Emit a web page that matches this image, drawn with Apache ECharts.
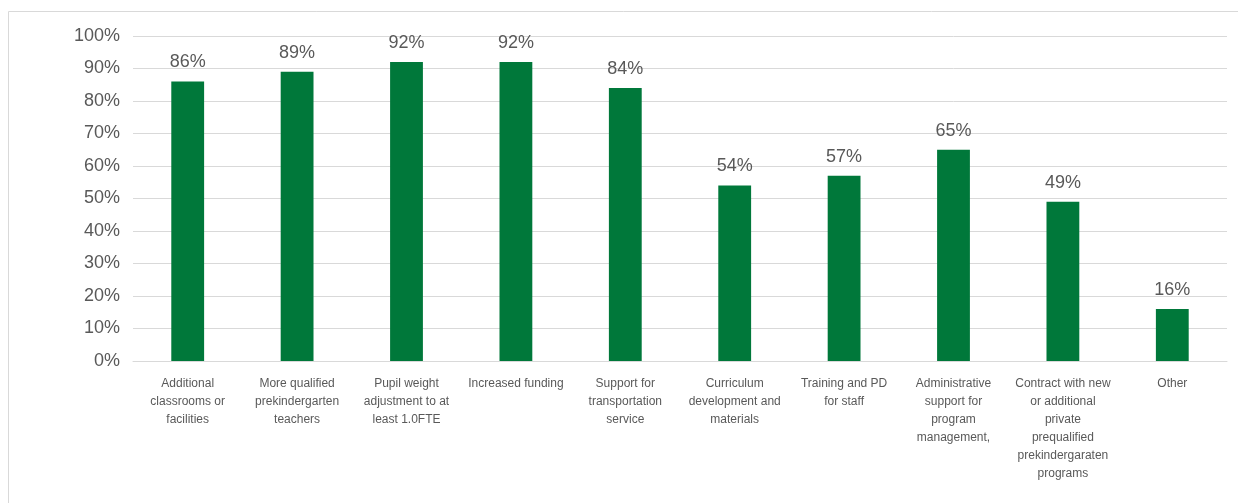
<!DOCTYPE html>
<html><head><meta charset="utf-8">
<script src="https://cdn.jsdelivr.net/npm/echarts@6/dist/echarts.min.js"></script>
<style>html,body{margin:0;padding:0;background:#fff}#c{width:1238px;height:503px}</style>
</head><body><div id="c"></div>
<script>
const categories = [
  "Additional\nclassrooms or\nfacilities",
  "More qualified\nprekindergarten\nteachers",
  "Pupil weight\nadjustment to at\nleast 1.0FTE",
  "Increased funding",
  "Support for\ntransportation\nservice",
  "Curriculum\ndevelopment and\nmaterials",
  "Training and PD\nfor staff",
  "Administrative\nsupport for\nprogram\nmanagement,",
  "Contract with new\nor additional\nprivate\nprequalified\nprekindergaraten\nprograms",
  "Other"
];
const values = [86, 89, 92, 92, 84, 54, 57, 65, 49, 16];
const yTicks = [0, 10, 20, 30, 40, 50, 60, 70, 80, 90, 100];

const chart = echarts.init(document.getElementById('c'), null, {renderer: 'canvas'});
chart.setOption({
  animation: false,
  textStyle: {fontFamily: 'Liberation Sans, Arial, sans-serif'},
  graphic: [{
    type: 'rect', silent: true,
    shape: {x: 8.5, y: 11.5, width: 1240, height: 500},
    style: {fill: 'none', stroke: '#d9d9d9', lineWidth: 1}
  }],
  grid: {left: 133, right: 11, top: 36, bottom: 142, containLabel: false},
  xAxis: {
    type: 'category',
    data: categories,
    axisLine: {show: true, lineStyle: {color: '#d9d9d9', width: 1}},
    axisTick: {show: false},
    axisLabel: {
      interval: 0, color: '#595959', fontSize: 12, lineHeight: 18, margin: 14,
      fontFamily: 'Liberation Sans, Arial, sans-serif'
    }
  },
  yAxis: {
    type: 'value', min: 0, max: 100, interval: 10,
    axisLine: {show: false}, axisTick: {show: false},
    splitLine: {lineStyle: {color: '#d9d9d9', width: 1}},
    axisLabel: {
      color: '#595959', fontSize: 18, margin: 13,
      formatter: v => yTicks.includes(v) ? v + '%' : ''
    }
  },
  series: [{
    type: 'bar',
    data: values,
    barWidth: '30%',
    itemStyle: {color: '#00783A'},
    label: {
      show: true, position: 'top', distance: 10,
      color: '#595959', fontSize: 18,
      formatter: p => p.value + '%'
    }
  }]
});
</script>
</body></html>
